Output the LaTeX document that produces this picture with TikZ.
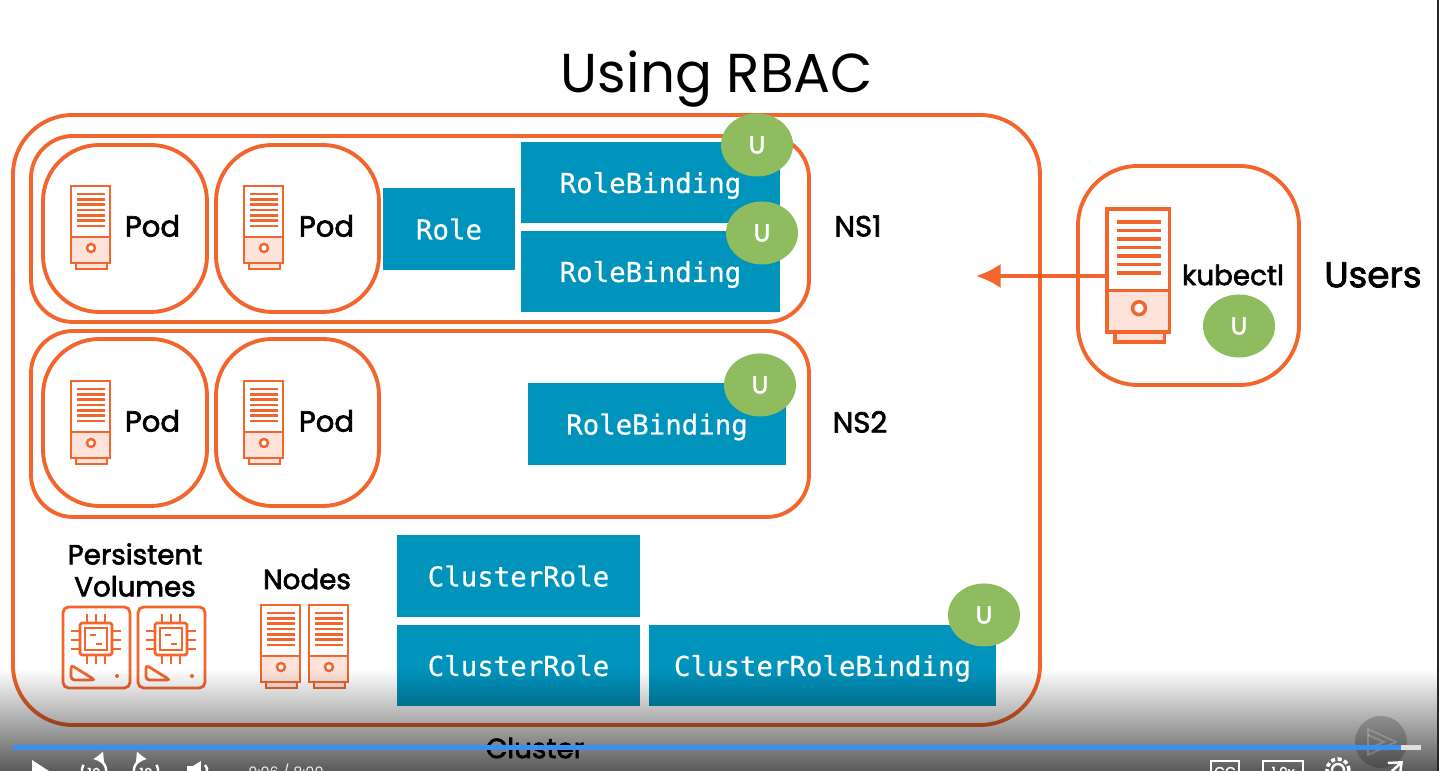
\documentclass[tikz,border=0pt]{standalone}
\usepackage{fontspec}
\usepackage{tikz}
\usetikzlibrary{arrows.meta,fadings,calc,shapes.geometric}
\setmainfont{Poppins}
\setmonofont{DejaVu Sans Mono}[RawFeature={embolden=0.5}]
\newfontfamily\labelfont{Poppins}[RawFeature={embolden=2.2}]
\definecolor{orangecol}{HTML}{F2652D}
\definecolor{bluecol}{HTML}{0093BC}
\definecolor{greencol}{HTML}{8FBC5E}
\definecolor{tintcol}{HTML}{FDE3DA}
\definecolor{barcol}{HTML}{3B8FF0}
\tikzfading[name=playerfade, top color=transparent!100, bottom color=transparent!35]
\def\iconlw{0.7pt}
\tikzset{
  groupbox/.style={draw=orangecol, line width=1.1pt, anchor=north west, inner sep=0pt, outer sep=0pt},
  bluebox/.style={fill=bluecol, text=white, anchor=north west, inner sep=0pt, outer sep=0pt, text depth=0pt,
    font=\ttfamily\fontsize{7.8}{9}\selectfont},
  userdot/.style={ellipse, fill=greencol, text=white, inner sep=0pt, minimum width=0.72cm,
    minimum height=0.63cm, font=\labelfont\fontsize{7}{8}\selectfont},
  lbl/.style={font=\labelfont\fontsize{7.9}{9.1}\selectfont, align=center, inner sep=0pt},
  podlbl/.style={font=\labelfont\fontsize{8.3}{10}\selectfont, inner sep=0pt},
  ctrl/.style={draw=white, line width=0.7pt},
  ctrltext/.style={inner sep=0pt, text=white, font=\labelfont\fontsize{4}{5}\selectfont},
  servericon/.pic={
    \draw[orangecol, line width=\iconlw, fill=tintcol] (0.05,-0.77) rectangle (0.36,-0.83);
    \draw[orangecol, line width=\iconlw, fill=white] (0,0) rectangle (0.39,-0.77);
    \draw[orangecol, line width=\iconlw, fill=tintcol] (0,-0.51) rectangle (0.39,-0.77);
    \foreach \ly in {0.08,0.133,0.187,0.24,0.293,0.347,0.40}
      \draw[orangecol, line width=\iconlw] (0.06,-\ly) -- (0.34,-\ly);
    \draw[orangecol, line width=\iconlw, fill=white] (0.2,-0.62) circle (0.04);
  },
  volumeicon/.pic={
    \draw[orangecol, line width=0.8pt, rounded corners=1.6pt] (0,0) rectangle (0.67,-0.81);
    \draw[orangecol, line width=0.8pt, rounded corners=0.5pt] (0.17,-0.16) rectangle (0.49,-0.48);
    \draw[orangecol, line width=0.6pt] (0.22,-0.21) rectangle (0.44,-0.43);
    \draw[orangecol, line width=0.6pt] (0.27,-0.28) -- (0.33,-0.28) (0.33,-0.37) -- (0.39,-0.37);
    \foreach \pn in {0.24,0.33,0.42}{
      \draw[orangecol, line width=0.6pt] (\pn,-0.16) -- (\pn,-0.07) (\pn,-0.48) -- (\pn,-0.57);
      \draw[orangecol, line width=0.6pt] (0.17,-\pn) -- ++(-0.09,0);
      \draw[orangecol, line width=0.6pt] (0.49,-\pn) -- ++(0.09,0);
    }
    \draw[orangecol, line width=0.8pt, rounded corners=1pt] (0.08,-0.58) -- (0.08,-0.73) -- (0.32,-0.73) -- cycle;
    \fill[orangecol] (0.54,-0.69) circle (0.02);
  }
}
\begin{document}
\begin{tikzpicture}[>=Latex]
\useasboundingbox (0,0) rectangle (14.39,7.71);
\clip (0,0) rectangle (14.39,7.71);
\fill[white] (0,0) rectangle (14.39,7.71);

\node[font=\fontsize{15.6}{18}\selectfont, inner sep=0pt] (title) at (7.17,6.92) {Using RBAC};

% outer boxes
\node[groupbox, rounded corners=17pt, minimum width=10.27cm, minimum height=6.10cm] (cluster) at (0.13,6.56) {};
\node[groupbox, rounded corners=12pt, minimum width=7.78cm, minimum height=1.86cm] (ns1) at (0.31,6.35) {};
\node[groupbox, rounded corners=12pt, minimum width=7.78cm, minimum height=1.86cm] (ns2) at (0.31,4.40) {};
\node[groupbox, rounded corners=16pt, minimum width=1.64cm, minimum height=1.67cm] (podA) at (0.43,6.26) {};
\node[groupbox, rounded corners=16pt, minimum width=1.63cm, minimum height=1.67cm] (podB) at (2.16,6.26) {};
\node[groupbox, rounded corners=16pt, minimum width=1.64cm, minimum height=1.67cm] (podC) at (0.43,4.32) {};
\node[groupbox, rounded corners=16pt, minimum width=1.63cm, minimum height=1.67cm] (podD) at (2.16,4.32) {};
\node[groupbox, rounded corners=17pt, minimum width=2.21cm, minimum height=2.19cm] (users) at (10.78,6.05) {};

% icons
\pic at (0.71,5.85) {servericon};
\pic at (2.44,5.85) {servericon};
\pic at (0.71,3.90) {servericon};
\pic at (2.44,3.90) {servericon};
\pic at (2.61,1.66) {servericon};
\pic at (3.09,1.66) {servericon};
\pic at (0.63,1.64) {volumeicon};
\pic at (1.38,1.64) {volumeicon};
\begin{scope}
\def\iconlw{1pt}
\pic[scale=1.6] at (11.07,5.62) {servericon};
\end{scope}

% blue boxes
\node[bluebox, minimum width=1.32cm, minimum height=0.82cm] (role) at (3.83,5.83) {Role};
\node[bluebox, minimum width=2.59cm, minimum height=0.81cm] (rbA) at (5.21,6.29) {RoleBinding};
\node[bluebox, minimum width=2.59cm, minimum height=0.81cm] (rbB) at (5.21,5.40) {RoleBinding};
\node[bluebox, minimum width=2.58cm, minimum height=0.82cm] (rbC) at (5.28,3.88) {RoleBinding};
\node[bluebox, minimum width=2.43cm, minimum height=0.82cm] (crA) at (3.97,2.36) {ClusterRole};
\node[bluebox, minimum width=2.43cm, minimum height=0.81cm] (crB) at (3.97,1.46) {ClusterRole};
\node[bluebox, minimum width=3.47cm, minimum height=0.81cm] (crb) at (6.49,1.46) {ClusterRoleBinding};

% U badges
\node[userdot] (uA) at (7.57,6.26) {U};
\node[userdot] (uB) at (7.62,5.38) {U};
\node[userdot] (uC) at (7.60,3.86) {U};
\node[userdot] (uD) at (9.84,1.56) {U};
\node[userdot] (uE) at (12.39,4.45) {U};

% labels
\node[podlbl] (podLblA) at (1.525,5.45) {Pod};
\node[podlbl] (podLblB) at (3.265,5.45) {Pod};
\node[podlbl] (podLblC) at (1.525,3.50) {Pod};
\node[podlbl] (podLblD) at (3.265,3.50) {Pod};
\node[podlbl] (ns1Lbl) at (8.58,5.45) {NS1};
\node[podlbl] (ns2Lbl) at (8.60,3.49) {NS2};
\node[lbl] (pvLbl) at (1.35,2.01) {Persistent\\Volumes};
\node[lbl] (nodesLbl) at (3.07,1.92) {Nodes};
\node[lbl] (kubectlLbl) at (12.33,4.96) {kubectl};
\node[lbl, font=\labelfont\fontsize{10.2}{12}\selectfont] (usersLbl) at (13.73,4.96) {Users};
\node[lbl] (clusterLbl) at (5.35,0.23) {Cluster};

% arrow
\coordinate (kubeOut) at (11.07,4.95);
\coordinate (clusterIn) at (9.76,4.95);
\draw[-{Latex[length=7pt,width=7pt]}, orangecol, line width=1.2pt] (kubeOut) -- (clusterIn);

% player
\fill[black, path fading=playerfade] (0,0) rectangle (14.39,1.02);
\fill[black, opacity=0.2] (13.81,0.29) circle (0.26);
\draw[white, opacity=0.2, line width=0.5pt] (13.68,0.42) -- (13.96,0.29) -- (13.68,0.16) -- cycle;
\draw[white, opacity=0.2, line width=0.5pt] (13.68,0.36) -- (13.84,0.29) -- (13.68,0.22);
\fill[barcol] (0.13,0.21) rectangle (14.01,0.26);
\fill[white!75!gray] (14.01,0.21) rectangle (14.21,0.26);
\fill[black!85] (14.37,0) rectangle (14.39,7.71);

\fill[white] (0.32,-0.02) -- (0.32,0.11) -- (0.52,-0.02) -- cycle;
\draw[ctrl, -{Latex[length=3pt,width=4pt]}] (1.06,-0.02) arc[start angle=-10, end angle=95, radius=0.12];
\draw[ctrl] (0.82,-0.02) arc[start angle=190, end angle=150, radius=0.12];
\draw[ctrl, -{Latex[length=3pt,width=4pt]}] (1.34,-0.02) arc[start angle=190, end angle=85, radius=0.12];
\draw[ctrl] (1.58,-0.02) arc[start angle=-10, end angle=30, radius=0.12];
\node[ctrltext] (backLbl) at (0.94,-0.02) {10};
\node[ctrltext] (fwdLbl) at (1.46,-0.02) {10};
\fill[white] (1.87,0) rectangle (1.93,0.05);
\fill[white] (1.93,0) -- (1.93,0.05) -- (2.01,0.1) -- (2.01,-0.02) -- cycle;
\draw[ctrl] (2.05,0.06) arc[start angle=50, end angle=-30, radius=0.06];
\node[font=\fontsize{4.1}{5}\selectfont, inner sep=0pt, text=white!85!gray] (timeLbl) at (2.86,-0.01) {0:06 / 8:00};
\draw[ctrl] (12.11,-0.05) rectangle (12.39,0.10);
\node[ctrltext] (ccLbl) at (12.25,-0.01) {CC};
\draw[ctrl] (12.63,-0.05) rectangle (13.03,0.10);
\node[ctrltext] (speedLbl) at (12.83,-0.01) {1.0x};
\draw[ctrl, line width=1pt, dash pattern=on 1.2pt off 0.7pt] (13.38,0.01) circle (0.11);
\draw[ctrl] (13.38,0.01) circle (0.06);
\draw[ctrl, -{Straight Barb[length=3pt,width=5pt]}] (13.90,-0.02) -- (14.03,0.10);
\end{tikzpicture}
\end{document}
